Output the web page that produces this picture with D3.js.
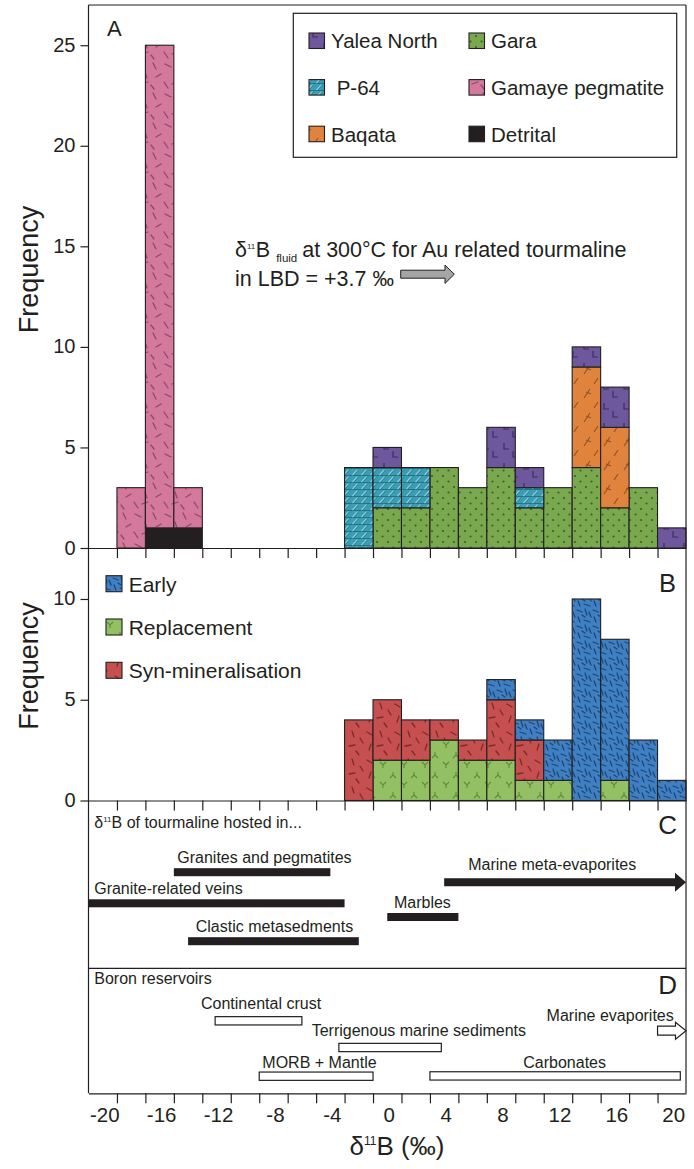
<!DOCTYPE html>
<html><head><meta charset="utf-8">
<script src="https://cdn.jsdelivr.net/npm/d3@7"></script>
<style>
body{margin:0;background:#fff}
svg{display:block}
text{font-family:"Liberation Sans",Arial,Helvetica,sans-serif;fill:#231f20}
</style>
</head><body>
<svg id="chart" width="694" height="1169"></svg>
<script>
// ---------------- DATA ----------------
const bins = [-20,-18,-16,-14,-12,-10,-8,-6,-4,-2,0,2,4,6,8,10,12,14,16,18,20];
// Panel A (by locality)
const detrital = [0,0,1,1,0,0,0,0,0,0,0,0,0,0,0,0,0,0,0,0,0];
const gamaye   = [0,3,24,2,0,0,0,0,0,0,0,0,0,0,0,0,0,0,0,0,0];
const gara     = [0,0,0,0,0,0,0,0,0,0,2,2,4,3,4,2,3,4,2,3,0];
const p64      = [0,0,0,0,0,0,0,0,0,4,2,2,0,0,0,1,0,0,0,0,0];
const baqata   = [0,0,0,0,0,0,0,0,0,0,0,0,0,0,0,0,0,5,4,0,0];
const yalea    = [0,0,0,0,0,0,0,0,0,0,1,0,0,0,2,1,0,1,2,0,1];
// Panel B (by generation)
const replacement = [0,0,0,0,0,0,0,0,0,0,2,2,3,2,2,1,1,0,1,0,0];
const synMin      = [0,0,0,0,0,0,0,0,0,4,3,2,1,1,3,2,0,0,0,0,0];
const early       = [0,0,0,0,0,0,0,0,0,0,0,0,0,0,1,1,2,10,7,3,1];
// Axis ticks
const yTicksA = [0,5,10,15,20,25];
const yTicksB = [0,5,10];
const xLabels = [-20,-16,-12,-8,-4,0,4,8,12,16,20];
const binEdges = [-19,-17,-15,-13,-11,-9,-7,-5,-3,-1,1,3,5,7,9,11,13,15,17,19];
// Panel C: d11B of tourmaline hosted in...
const hostNames = ["Granites and pegmatites","Granite-related veins","Clastic metasedments","Marbles","Marine meta-evaporites"];
const hostMin   = [-15,-21,-14,0,4];
const hostMax   = [-4,-3,-2,5,21];
const hostArrow = [false,false,false,false,true];
// Panel D: boron reservoirs
const resNames = ["Continental crust","Terrigenous marine sediments","MORB + Mantle","Carbonates","Marine evaporites"];
const resMin   = [-12.1,-3.4,-9,3,19];
const resMax   = [-6,3.8,-1,20.6,21];
const resArrow = [false,false,false,false,true];

// ---------------- LAYOUT ----------------
const svg = d3.select("#chart");
const INK = "#231f20";
const L = 88.5, R = 686, TOP = 5;
const x = d3.scaleLinear().domain([-21,21]).range([L,R]);
const yA = d3.scaleLinear().domain([0,27]).range([548,TOP]);
const yB = d3.scaleLinear().domain([0,12.53]).range([800.5,548]);
const ySep = 968.3, yBottom = 1093.3;

// ---------------- PATTERNS ----------------
const defs = svg.append("defs");
function pat(id, w, h, bg, build){
  const p = defs.append("pattern").attr("id",id).attr("patternUnits","userSpaceOnUse")
    .attr("width",w).attr("height",h);
  p.append("rect").attr("width",w).attr("height",h).attr("fill",bg);
  build(p);
}
function dashes(p, segs, col, sw){
  segs.forEach(s=>p.append("line").attr("x1",s[0]).attr("y1",s[1]).attr("x2",s[2]).attr("y2",s[3])
    .attr("stroke",col).attr("stroke-width",sw).attr("stroke-linecap","round"));
}
pat("pGamaye",30,30,"#d4789c",p=>dashes(p,[[3,3,6,9],[15,4,21,7],[25,12,27,18],[6,17,11,14],[14,22,18,28],[22,24,28,22],[1,25,4,29]],"#8b4a6c",1.3));
pat("pDetrital",10,10,INK,p=>{});
pat("pGara",11,11,"#79a84f",p=>{
  [[3,3],[8.5,8.5]].forEach(d=>p.append("circle").attr("cx",d[0]).attr("cy",d[1]).attr("r",1.1).attr("fill","#3f5e2a"));
});
pat("pP64",9,7,"#3a9db4",p=>{
  p.append("path").attr("d","M0,6.6H9").attr("stroke","#1f6677").attr("stroke-width",0.9);
  p.append("path").attr("d","M1.5,6 L6.5,0.6").attr("stroke","#8fd2df").attr("stroke-width",1.2);
  p.append("path").attr("d","M2.6,6.3 L7.6,0.9").attr("stroke","#23707f").attr("stroke-width",0.7);
});
pat("pBaqata",20,24,"#e0843d",p=>{
  p.append("path").attr("d","M4,14 L10,5 M6,8 L11,10 M14,24 L18,18").attr("stroke","#935022").attr("stroke-width",1.1).attr("fill","none");
});
pat("pYalea",20,20,"#6d589d",p=>{
  p.append("path").attr("d","M4,3 V9 H9 M13,11 V17 H18").attr("stroke","#3a2b5e").attr("stroke-width",1.2).attr("fill","none");
});
pat("pEarly",16,16,"#3f7fc3",p=>dashes(p,[[1,2,6,4],[9,1,11,7],[2,9,4,14],[8,12,14,14],[13,4,15,9],[6,7,9,9]],"#21456f",1.3));
pat("pRepl",21,20,"#92c062",p=>{
  p.append("path").attr("d","M2,2 L5,5 L8,2 M5,5 V8 M15,12 V15 L12,18 M15,15 L18,18").attr("stroke","#5f8a3a").attr("stroke-width",1.1).attr("fill","none");
});
pat("pSyn",28,28,"#c6504f",p=>dashes(p,[[3,4,8,7],[16,3,18,9],[24,10,27,15],[7,16,5,22],[13,18,19,17],[20,23,23,27]],"#7b2a2a",1.3));

// ---------------- HISTOGRAMS ----------------
function stacked(series, yScale, cls){
  const rows = bins.map((b,i)=>{ const o={bin:b}; series.forEach(s=>o[s.key]=s.values[i]); return o; });
  const st = d3.stack().keys(series.map(s=>s.key))(rows);
  const g = svg.append("g").attr("class",cls);
  st.forEach((layer,li)=>{
    g.selectAll(null).data(layer.filter(d=>d[1]-d[0]>0)).join("rect")
      .attr("x",d=>x(d.data.bin-1)).attr("width",d=>x(d.data.bin+1)-x(d.data.bin-1))
      .attr("y",d=>yScale(d[1])).attr("height",d=>yScale(d[0])-yScale(d[1]))
      .attr("fill",`url(#${series[li].pat})`).attr("stroke",INK).attr("stroke-width",1.1);
  });
}
stacked([
  {key:"Detrital",values:detrital,pat:"pDetrital"},
  {key:"Gamaye pegmatite",values:gamaye,pat:"pGamaye"},
  {key:"Gara",values:gara,pat:"pGara"},
  {key:"P-64",values:p64,pat:"pP64"},
  {key:"Baqata",values:baqata,pat:"pBaqata"},
  {key:"Yalea North",values:yalea,pat:"pYalea"}
], yA, "histA");
stacked([
  {key:"Replacement",values:replacement,pat:"pRepl"},
  {key:"Syn-mineralisation",values:synMin,pat:"pSyn"},
  {key:"Early",values:early,pat:"pEarly"}
], yB, "histB");

// ---------------- AXES & FRAMES ----------------
function line(x1,y1,x2,y2,w){ svg.append("line").attr("x1",x1).attr("y1",y1).attr("x2",x2).attr("y2",y2).attr("stroke",INK).attr("stroke-width",w||1.2); }
line(L,TOP,R,TOP); line(L,TOP,L,yBottom); line(R,TOP,R,yBottom); line(L,ySep,R,ySep);

function xTickAxis(y0){
  const g = svg.append("g").attr("transform",`translate(0,${y0})`)
    .call(d3.axisBottom(x).tickValues(binEdges).tickSize(10).tickSizeOuter(0).tickFormat(""));
  g.select(".domain").attr("stroke",INK).attr("stroke-width",1.2);
  g.selectAll(".tick line").attr("stroke",INK).attr("stroke-width",1.2);
}
xTickAxis(yA(0)); xTickAxis(yB(0)); xTickAxis(yBottom);
const xl = svg.append("g").attr("transform",`translate(1.5,${yBottom})`)
  .call(d3.axisBottom(x).tickValues(xLabels).tickSize(0).tickPadding(14).tickFormat(d=>String(d)));
xl.select(".domain").remove();
xl.selectAll("text").attr("font-size",20.5).attr("font-family","Liberation Sans, Arial, sans-serif").attr("fill",INK);

function yAxis(scale, ticks){
  const g = svg.append("g").attr("transform",`translate(${L},0)`)
    .call(d3.axisLeft(scale).tickValues(ticks).tickSize(8).tickPadding(5).tickFormat(d=>String(d)));
  g.select(".domain").remove();
  g.selectAll(".tick line").attr("stroke",INK).attr("stroke-width",1.2);
  g.selectAll("text").attr("font-size",20).attr("dy","0.3em").attr("font-family","Liberation Sans, Arial, sans-serif").attr("fill",INK);
}
yAxis(yA, yTicksA); yAxis(yB, yTicksB);

svg.append("text").attr("transform",`translate(38,${(yA(0)+yA(27))/2-7}) rotate(-90)`).attr("text-anchor","middle").attr("font-size",27).text("Frequency");
svg.append("text").attr("transform",`translate(38,666) rotate(-90)`).attr("text-anchor","middle").attr("font-size",27).text("Frequency");

// Panel letters
svg.append("text").attr("x",107).attr("y",36).attr("font-size",22).text("A");
svg.append("text").attr("x",676).attr("y",591.7).attr("text-anchor","end").attr("font-size",25.5).text("B");
svg.append("text").attr("x",677).attr("y",834.3).attr("text-anchor","end").attr("font-size",26).text("C");
svg.append("text").attr("x",677).attr("y",994.3).attr("text-anchor","end").attr("font-size",26).text("D");

// ---------------- LEGENDS ----------------
svg.append("rect").attr("x",293.3).attr("y",13.3).attr("width",383.4).attr("height",144)
  .attr("fill","#fff").attr("stroke",INK).attr("stroke-width",1.2);
const legA = [
  {name:"Yalea North",pat:"pYalea",col:0,row:0},
  {name:"Gara",pat:"pGara",col:1,row:0},
  {name:" P-64",pat:"pP64",col:0,row:1},
  {name:"Gamaye pegmatite",pat:"pGamaye",col:1,row:1},
  {name:"Baqata",pat:"pBaqata",col:0,row:2},
  {name:"Detrital",pat:"pDetrital",col:1,row:2}
];
const lgA = svg.append("g");
legA.forEach(d=>{
  const sx = d.col===0?309:469, sy = 33+d.row*46.6;
  lgA.append("rect").attr("x",sx).attr("y",sy).attr("width",15.5).attr("height",15.5)
    .attr("fill",`url(#${d.pat})`).attr("stroke",INK).attr("stroke-width",1.1);
  lgA.append("text").attr("x",sx+22).attr("y",sy+15.3).attr("font-size",20.5)
    .style("white-space","pre").text(d.name);
});
const legB = [{name:"Early",pat:"pEarly"},{name:"Replacement",pat:"pRepl"},{name:"Syn-mineralisation",pat:"pSyn"}];
legB.forEach((d,i)=>{
  const sy = 575.7+i*43.3;
  svg.append("rect").attr("x",106).attr("y",sy).attr("width",16).attr("height",16)
    .attr("fill",`url(#${d.pat})`).attr("stroke",INK).attr("stroke-width",1.1);
  svg.append("text").attr("x",128.7).attr("y",sy+16).attr("font-size",21).text(d.name);
});

// ---------------- ANNOTATION (panel A) ----------------
const ann = svg.append("text").attr("x",235).attr("y",257.3).attr("font-size",21.5);
ann.append("tspan").text("δ");
ann.append("tspan").attr("dy",-8).attr("font-size",8).text("11");
ann.append("tspan").attr("dy",8).attr("dx",0.5).text("B");
ann.append("tspan").attr("dy",4.5).attr("dx",6).attr("font-size",11.5).text("fluid");
ann.append("tspan").attr("dy",-4.5).attr("dx",5).text("at 300°C for Au related tourmaline");
svg.append("text").attr("x",235).attr("y",285.7).attr("font-size",21.5).text("in LBD = +3.7 ‰");
// grey arrow
(function(){
  const x0 = 400.7, x1 = 445, x2 = 454.3, yc = 274.2;
  svg.append("path").attr("d",`M${x0},${yc-4}H${x1}V${yc-9.2}L${x2},${yc}L${x1},${yc+9.2}V${yc+4}H${x0}Z`)
    .attr("fill","#a5a5a5").attr("stroke",INK).attr("stroke-width",1);
})();

// ---------------- PANEL C ----------------
const cRowY   = [872.2, 903.3, 941.2, 917, 882.3];
const cLabelX = [-14.76, -20.6, -13.46, 0.47, 5.69];
svg.append("text").attr("x",94.3).attr("y",828.3).attr("font-size",16)
  .call(t=>{ t.append("tspan").text("δ"); t.append("tspan").attr("dy",-6).attr("font-size",8).text("11");
             t.append("tspan").attr("dy",6).text("B of tourmaline hosted in..."); });
hostNames.forEach((n,i)=>{
  const yc = cRowY[i], h = 8;
  if(hostArrow[i]){
    const xh = x(hostMax[i]) - 11;
    svg.append("path").attr("d",`M${x(hostMin[i])},${yc-h/2}H${xh}V${yc-9.5}L${x(hostMax[i])},${yc}L${xh},${yc+9.5}V${yc+h/2}H${x(hostMin[i])}Z`).attr("fill",INK);
  } else {
    svg.append("rect").attr("x",x(hostMin[i])).attr("y",yc-h/2).attr("width",x(hostMax[i])-x(hostMin[i])).attr("height",h).attr("fill",INK);
  }
  svg.append("text").attr("x",x(cLabelX[i])).attr("y",yc-h/2-(hostArrow[i]?8:5)).attr("font-size",16).text(n);
});

// ---------------- PANEL D ----------------
const dRowY   = [1020.8, 1047.5, 1076.2, 1075.9, 1030.7];
const dLabelX = [-13.09, -5.31, -8.78, 9.56, 11.2];
const dLabelY = [1009, 1036, 1068.3, 1068.3, 1021];
svg.append("text").attr("x",94.3).attr("y",984.3).attr("font-size",16).text("Boron reservoirs");
resNames.forEach((n,i)=>{
  const yc = dRowY[i], h = 8.3;
  if(resArrow[i]){
    const xh = x(resMax[i]) - 10.5;
    svg.append("path").attr("d",`M${x(resMin[i])},${yc-4.5}H${xh}V${yc-8.5}L${x(resMax[i])},${yc}L${xh},${yc+8.5}V${yc+4.5}H${x(resMin[i])}Z`)
      .attr("fill","#fff").attr("stroke",INK).attr("stroke-width",1.2);
  } else {
    svg.append("rect").attr("x",x(resMin[i])).attr("y",yc-h/2).attr("width",x(resMax[i])-x(resMin[i])).attr("height",h)
      .attr("fill","#fff").attr("stroke",INK).attr("stroke-width",1.2);
  }
  svg.append("text").attr("x",x(dLabelX[i])).attr("y",dLabelY[i]).attr("font-size",16).text(n);
});

// ---------------- X TITLE ----------------
svg.append("text").attr("x",397).attr("y",1155).attr("text-anchor","middle").attr("font-size",26)
  .call(t=>{ t.append("tspan").text("δ"); t.append("tspan").attr("dy",-10).attr("font-size",12).text("11");
             t.append("tspan").attr("dy",10).text("B (‰)"); });
</script>
</body></html>
